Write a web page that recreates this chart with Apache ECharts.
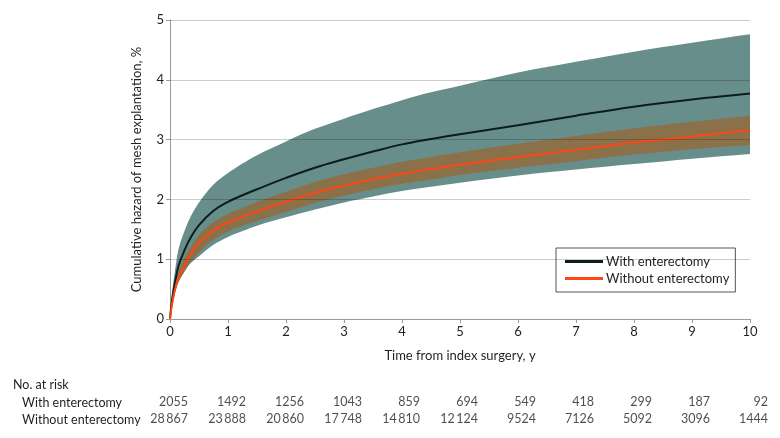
<!DOCTYPE html>
<html><head><meta charset="utf-8">
<script src="https://cdn.jsdelivr.net/npm/echarts@6/dist/echarts.min.js"></script>
<style>html,body{margin:0;padding:0;background:#fff}#c{width:780px;height:438px}</style>
</head><body><div id="c"></div>
<script>
var years = [0, 0.02, 0.05, 0.1, 0.15, 0.25, 0.35, 0.5, 0.75, 1, 1.25, 1.5, 2, 2.5, 3, 3.5, 4, 4.5, 5, 6, 7, 8, 9, 10];
var withMid   = [0, 0.2, 0.42, 0.68, 0.9, 1.15, 1.35, 1.57, 1.81, 1.96, 2.07, 2.17, 2.36, 2.53, 2.67, 2.80, 2.92, 3.01, 3.09, 3.24, 3.40, 3.55, 3.67, 3.77];
var withHi    = [0, 0.25, 0.55, 0.9, 1.18, 1.47, 1.7, 1.95, 2.25, 2.44, 2.6, 2.74, 2.97, 3.18, 3.35, 3.51, 3.66, 3.79, 3.90, 4.12, 4.30, 4.47, 4.62, 4.76];
var withLo    = [0, 0.13, 0.3, 0.5, 0.65, 0.82, 0.93, 1.05, 1.24, 1.37, 1.47, 1.56, 1.70, 1.83, 1.95, 2.05, 2.14, 2.21, 2.28, 2.40, 2.50, 2.59, 2.68, 2.76];
var withoutMid = [0, 0.15, 0.33, 0.55, 0.7, 0.9, 1.07, 1.27, 1.48, 1.61, 1.71, 1.80, 1.96, 2.11, 2.23, 2.34, 2.43, 2.51, 2.58, 2.71, 2.83, 2.95, 3.05, 3.16];
var withoutHi  = [0, 0.17, 0.38, 0.62, 0.8, 1.02, 1.2, 1.41, 1.62, 1.76, 1.86, 1.96, 2.13, 2.29, 2.42, 2.53, 2.63, 2.71, 2.79, 2.93, 3.06, 3.19, 3.30, 3.40];
var withoutLo  = [0, 0.13, 0.28, 0.48, 0.62, 0.79, 0.94, 1.11, 1.33, 1.46, 1.56, 1.64, 1.79, 1.94, 2.06, 2.17, 2.26, 2.33, 2.41, 2.53, 2.64, 2.75, 2.84, 2.91];

var riskYears = [0, 1, 2, 3, 4, 5, 6, 7, 8, 9, 10];
var riskWith = [2055, 1492, 1256, 1043, 859, 694, 549, 418, 299, 187, 92];
var riskWithout = [28867, 23888, 20860, 17748, 14810, 12124, 9524, 7126, 5092, 3096, 1444];
var rowLabels = ['With enterectomy', 'Without enterectomy'];
var yTicks = [1, 2, 3, 4, 5];

var FONT = 'Lato';
var FS = 12.5;
var TXT = '#231f20';

function zip(xs, ys) { return xs.map(function (x, i) { return [x, ys[i]]; }); }
function bandSeries(lo, hi, color, z) {
  return {
    type: 'custom', z: z, silent: true, xAxisIndex: 0, yAxisIndex: 0,
    data: years.map(function (x, i) { return [x, lo[i], hi[i]]; }),
    renderItem: function (params, api) {
      if (params.dataIndex !== 0) return null;
      var n = years.length;
      var pts = [];
      for (var i = 0; i < n; i++) pts.push(api.coord([years[i], hi[i]]));
      pts.push(api.coord([years[n - 1], hi[n - 1]]));
      pts.push(api.coord([years[n - 1], lo[n - 1]]));
      for (var j = n - 1; j >= 0; j--) pts.push(api.coord([years[j], lo[j]]));
      pts.push(api.coord([years[0], lo[0]]));
      return { type: 'polygon', shape: { points: pts, smooth: 0.35 }, style: { fill: color } };
    }
  };
}
function fmt(v) {
  var s = String(v);
  if (v >= 10000) s = s.slice(0, s.length - 3) + '\u2009' + s.slice(s.length - 3);
  return s;
}
var riskData = [];
riskYears.forEach(function (x, i) {
  riskData.push([x, 0, riskWith[i]]);
  riskData.push([x, 1, riskWithout[i]]);
});

var chart = echarts.init(document.getElementById('c'), null, { renderer: 'canvas' });
chart.setOption({
  animation: false,
  textStyle: { fontFamily: FONT },
  grid: [
    { left: 170, right: 30, top: 20, bottom: 119 },
    { left: 170, right: 30, top: 393, height: 34 }
  ],
  xAxis: [{
    type: 'value', min: 0, max: 10, interval: 1, gridIndex: 0,
    name: 'Time from index surgery, y', nameLocation: 'middle', nameGap: 30,
    nameTextStyle: { fontFamily: FONT, fontSize: 13, color: TXT },
    axisLine: { lineStyle: { color: '#9a9a9a', width: 1 } },
    axisTick: { show: true, length: 4, lineStyle: { color: '#9a9a9a' } },
    axisLabel: { fontFamily: FONT, fontSize: 13, color: TXT, margin: 6 },
    splitLine: { show: false }
  }, {
    type: 'value', min: 0, max: 10, gridIndex: 1, show: false
  }],
  yAxis: [{
    type: 'value', min: 0, max: 5, interval: 1, gridIndex: 0,
    name: 'Cumulative hazard of mesh explantation, %', nameLocation: 'middle', nameGap: 27,
    nameTextStyle: { fontFamily: FONT, fontSize: 13, color: TXT },
    axisLine: { show: true, lineStyle: { color: '#9a9a9a', width: 1 } },
    axisTick: { show: true, length: 4, lineStyle: { color: '#9a9a9a' } },
    axisLabel: { fontFamily: FONT, fontSize: 13, color: TXT, margin: 6 },
    splitLine: { show: false }
  }, {
    type: 'category', data: rowLabels, inverse: true, gridIndex: 1, show: false
  }],
  legend: {
    left: 556, top: 248, orient: 'vertical',
    backgroundColor: '#fff', borderColor: '#555', borderWidth: 1, borderRadius: 0,
    padding: [7, 6, 7, 9], itemGap: 4,
    itemWidth: 38, itemHeight: 3, icon: 'rect',
    textStyle: { fontFamily: FONT, fontSize: 13, color: TXT, padding: [0, 0, 0, -2] },
    data: ['With enterectomy', 'Without enterectomy']
  },
  graphic: [
    { type: 'text', left: 13, top: 378, style: { text: 'No. at risk', font: FS + 'px ' + FONT, fill: TXT } },
    { type: 'text', left: 22, top: 396, style: { text: 'With enterectomy', font: FS + 'px ' + FONT, fill: TXT } },
    { type: 'text', left: 22, top: 413, style: { text: 'Without enterectomy', font: FS + 'px ' + FONT, fill: TXT } }
  ],
  series: [
    bandSeries(withLo, withHi, '#688e8b', 1),
    bandSeries(withoutLo, withoutHi, '#8b714a', 1),
    {
      type: 'line', z: 2, silent: true, data: [], symbol: 'none',
      markLine: {
        silent: true, symbol: 'none', label: { show: false },
        lineStyle: { color: 'rgba(0,0,0,0.2)', type: 'solid', width: 1.2 },
        data: yTicks.map(function (v) { return { yAxis: v }; })
      }
    },
    {
      name: 'With enterectomy', type: 'line', z: 3, data: zip(years, withMid),
      symbol: 'none', smooth: 0.4,
      lineStyle: { color: '#0b1d1d', width: 2 }, itemStyle: { color: '#0b1d1d' }
    },
    {
      name: 'Without enterectomy', type: 'line', z: 3, data: zip(years, withoutMid),
      symbol: 'none', smooth: 0.4,
      lineStyle: { color: '#ff4616', width: 2 }, itemStyle: { color: '#ff4616' }
    },
    {
      type: 'scatter', xAxisIndex: 1, yAxisIndex: 1, data: riskData, symbolSize: 0, silent: true,
      label: {
        show: true, position: 'inside', align: 'right', offset: [18, 0],
        fontFamily: FONT, fontSize: FS, color: TXT,
        formatter: function (p) { return fmt(p.value[2]); }
      }
    }
  ]
});
</script></body></html>
